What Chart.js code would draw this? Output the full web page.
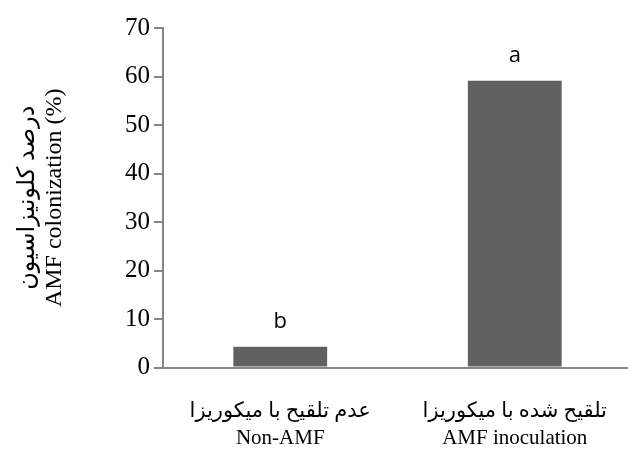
<!DOCTYPE html>
<html>
<head>
<meta charset="utf-8">
<script src="https://cdn.jsdelivr.net/npm/chart.js@4"></script>
<style>
  html, body { margin: 0; padding: 0; background: #fff; overflow: hidden; }
  #wrap { width: 632px; height: 454px; }
</style>
</head>
<body>
<div id="wrap"><canvas id="chart"></canvas></div>
<script>
// values
const categories = [
    ['عدم تلقیح با میکوریزا', 'Non-AMF'],
    ['تلقیح شده با میکوریزا', 'AMF inoculation']
];
const colonization = [4.3, 59.1];
const letters = ['b', 'a'];
const yTitle = ['درصد کلونیزاسیون', 'AMF colonization (%)'];

const axisGray = '#868686';
const serif = "'Liberation Serif', 'Times New Roman', 'DejaVu Sans', serif";

// draws the significance letters over each bar
const letterPlugin = {
    id: 'letters',
    afterDatasetsDraw(chart) {
        const ctx = chart.ctx;
        const meta = chart.getDatasetMeta(0);
        ctx.save();
        ctx.font = "22px 'Open Sans', sans-serif";
        ctx.fillStyle = '#000';
        ctx.textAlign = 'center';
        ctx.textBaseline = 'alphabetic';
        meta.data.forEach((bar, i) => {
            ctx.fillText(letters[i], bar.x, bar.y - 19);
        });
        ctx.restore();
    }
};

new Chart(document.getElementById('chart'), {
    type: 'bar',
    data: {
        labels: categories,
        datasets: [{
            data: colonization,
            backgroundColor: '#606060',
            borderWidth: 0,
            barPercentage: 0.4,
            categoryPercentage: 1.0
        }]
    },
    options: {
        responsive: true,
        maintainAspectRatio: false,
        animation: false,
        layout: { padding: { top: 28, left: 10, right: 0, bottom: 0 } },
        plugins: {
            legend: { display: false },
            tooltip: { enabled: false }
        },
        scales: {
            x: {
                afterFit(scale) { scale.height = 86.5; },
                grid: { display: false },
                border: { display: true, color: axisGray, width: 2 },
                ticks: {
                    color: '#000',
                    padding: 22,
                    maxRotation: 0,
                    font: { family: serif, size: 21, lineHeight: 1.3 }
                }
            },
            y: {
                min: 0,
                max: 70,
                afterFit(scale) { scale.width = 153; },
                grid: {
                    display: true,
                    drawOnChartArea: false,
                    drawTicks: true,
                    tickLength: 9,
                    color: axisGray,
                    lineWidth: 2
                },
                border: { display: true, color: axisGray, width: 2 },
                ticks: {
                    stepSize: 10,
                    color: '#000',
                    padding: 4,
                    font: { family: serif, size: 25 }
                },
                title: {
                    display: true,
                    text: yTitle,
                    color: '#000',
                    padding: { top: 4, bottom: 0 },
                    font: { family: serif, size: 24, lineHeight: 1.125 }
                }
            }
        }
    },
    plugins: [letterPlugin]
});
</script>
</body>
</html>
